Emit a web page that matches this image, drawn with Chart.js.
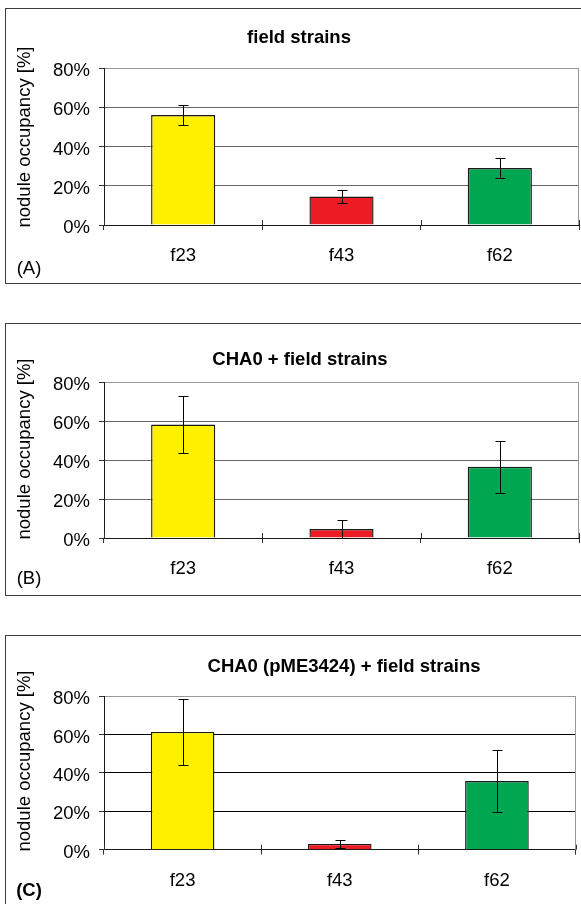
<!DOCTYPE html>
<html>
<head>
<meta charset="utf-8">
<script src="https://cdn.jsdelivr.net/npm/chart.js@4.4.0/dist/chart.umd.min.js"></script>
<style>
  html, body { margin: 0; padding: 0; background: #fff; width: 581px; height: 904px; overflow: hidden; position: relative; }
  .panel { position: absolute; left: 5px; width: 640px; border: 1px solid #3c3c3c; box-sizing: border-box; }
  canvas { position: absolute; left: 0; }
  .lbl { position: absolute; font-family: 'Liberation Sans', Arial, sans-serif; font-size: 18.5px; color: #000;
         white-space: nowrap; line-height: 1; transform: translate(-50%, -50%); }
  .bold { font-weight: bold; }
  .ytl { transform: translate(-50%, -50%) rotate(-90deg); }
</style>
</head>
<body>
<div class="panel" style="top:8px;height:276px"></div>
<div class="panel" style="top:323px;height:273px"></div>
<div class="panel" style="top:635px;height:300px"></div>

<canvas id="chartA" width="581" height="290" style="top:0px"></canvas>
<canvas id="chartB" width="581" height="300" style="top:300px"></canvas>
<canvas id="chartC" width="581" height="294" style="top:610px"></canvas>

<div class="lbl bold" style="left:299px;top:37px">field strains</div>
<div class="lbl bold" style="left:300px;top:359px">CHA0 + field strains</div>
<div class="lbl bold" style="left:344px;top:666px">CHA0 (pME3424) + field strains</div>

<div class="lbl ytl" style="left:24px;top:137px">nodule occupancy [%]</div>
<div class="lbl ytl" style="left:24px;top:449px">nodule occupancy [%]</div>
<div class="lbl ytl" style="left:24px;top:761px">nodule occupancy [%]</div>

<div class="lbl" style="left:29px;top:268px">(A)</div>
<div class="lbl" style="left:29px;top:578px">(B)</div>
<div class="lbl bold" style="left:29px;top:890px">(C)</div>

<script>
// strains on the x axis, same three in every panel
const categories = ['f23', 'f43', 'f62'];
const barColors = ['#FFF000', '#ED1C24', '#00A650'];
const yTicks = [0, 20, 40, 60, 80];

// nodule occupancy [%] and error bar half-widths
const fieldValues = [56, 14.5, 29];
const fieldErrors = [5.2, 3.1, 4.9];
const chaValues = [58.3, 4.6, 36.6];
const chaErrors = [14.7, 4.6, 13.3];
const pmeValues = [61.3, 3, 35.7];
const pmeErrors = [17, 2.1, 16.1];

const FONT = "'Liberation Sans', Arial, sans-serif";

// error bars drawn from the bar scale positions
const errorBarsPlugin = {
  id: 'errorBars',
  afterDatasetsDraw(chart, args, opts) {
    const { ctx } = chart;
    const yScale = chart.scales.y;
    const meta = chart.getDatasetMeta(0);
    const values = chart.data.datasets[0].data;
    ctx.save();
    ctx.strokeStyle = '#000';
    ctx.lineWidth = 1;
    meta.data.forEach((bar, i) => {
      const err = opts.errors[i];
      const x = Math.round(bar.x) + 0.5;
      const yHi = Math.round(yScale.getPixelForValue(values[i] + err)) + 0.5;
      const yLo = Math.round(yScale.getPixelForValue(Math.max(values[i] - err, 0))) + 0.5;
      ctx.beginPath();
      ctx.moveTo(x, yHi); ctx.lineTo(x, yLo);
      ctx.moveTo(x - 5, yHi); ctx.lineTo(x + 5, yHi);
      ctx.moveTo(x - 5, yLo); ctx.lineTo(x + 5, yLo);
      ctx.stroke();
    });
    ctx.restore();
  }
};

// light plot-area edge on the right, and the part of the category ticks that sits above the axis
const framePlugin = {
  id: 'frame',
  afterDraw(chart) {
    const { ctx, chartArea } = chart;
    const xScale = chart.scales.x;
    ctx.save();
    ctx.lineWidth = 1;
    ctx.strokeStyle = '#999';
    const r = Math.round(chartArea.right) - 0.5;
    ctx.beginPath();
    ctx.moveTo(r, chartArea.top);
    ctx.lineTo(r, chartArea.bottom);
    ctx.stroke();
    ctx.strokeStyle = '#333';
    ctx.beginPath();
    for (let i = 0; i <= categories.length; i++) {
      const x = Math.round(xScale.getPixelForValue(i - 0.5)) + 0.5;
      ctx.moveTo(x, chartArea.bottom - 5);
      ctx.lineTo(x, chartArea.bottom);
    }
    ctx.stroke();
    ctx.restore();
  }
};

function makePanel(canvasId, values, errors, geo) {
  const canvas = document.getElementById(canvasId);
  return new Chart(canvas, {
    type: 'bar',
    data: {
      labels: categories,
      datasets: [{
        data: values,
        backgroundColor: barColors,
        borderColor: '#1a1a1a',
        borderWidth: 1.4,
        barPercentage: 0.405,
        categoryPercentage: 1
      }]
    },
    options: {
      responsive: false,
      animation: false,
      events: [],
      layout: { padding: { top: geo.top, right: geo.right, left: 0, bottom: 0 } },
      plugins: {
        legend: { display: false },
        tooltip: { enabled: false },
        errorBars: { errors: errors }
      },
      scales: {
        x: {
          grid: { drawOnChartArea: false, tickLength: 5, color: '#333', offset: true },
          border: { color: '#1a1a1a', width: 1 },
          ticks: { color: '#000', padding: 15, font: { family: FONT, size: 18.5 } },
          afterFit: s => { s.height = geo.xHeight; }
        },
        y: {
          min: 0,
          max: 80,
          afterBuildTicks: s => { s.ticks = yTicks.map(v => ({ value: v })); },
          grid: {
            tickLength: 5,
            tickColor: '#333',
            color: ctx => ctx.tick.value === 80 ? '#999' : (ctx.tick.value === 0 ? 'rgba(0,0,0,0)' : geo.grid)
          },
          border: { color: '#1a1a1a', width: 1 },
          ticks: {
            color: '#000',
            padding: 9,
            labelOffset: 3,
            font: { family: FONT, size: 18.5 },
            callback: v => v + '%'
          },
          afterFit: s => { s.width = 104; }
        }
      }
    },
    plugins: [errorBarsPlugin, framePlugin]
  });
}

makePanel('chartA', fieldValues, fieldErrors, { top: 68, right: 2, xHeight: 65, grid: '#666' });
makePanel('chartB', chaValues, chaErrors, { top: 82.3, right: 2, xHeight: 62, grid: '#666' });
makePanel('chartC', pmeValues, pmeErrors, { top: 86, right: 5.5, xHeight: 54.3, grid: '#000' });
</script>
</body>
</html>
